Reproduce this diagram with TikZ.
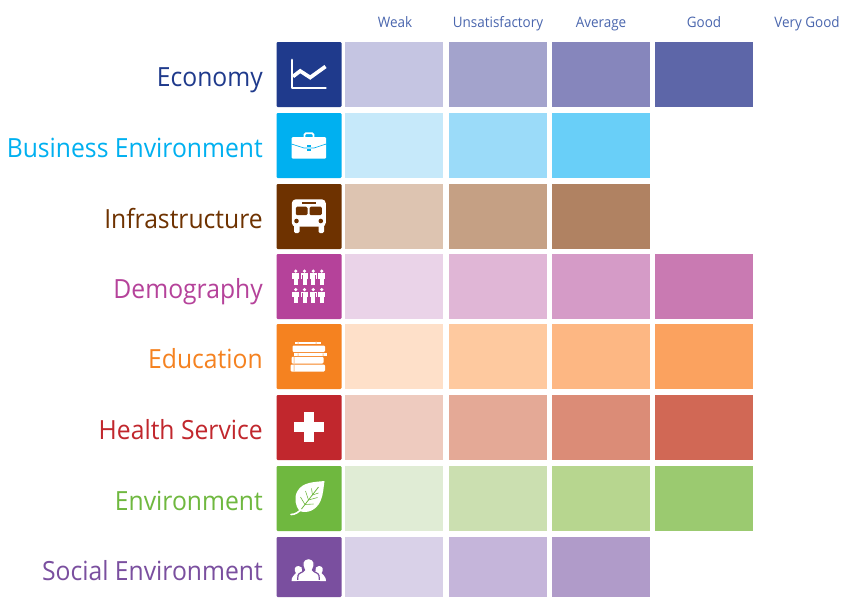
\documentclass[tikz,border=0pt]{standalone}
\usepackage{fontspec}
\setmainfont{Open Sans}
\newfontfamily\lblfont[FakeStretch=0.935]{Open Sans}
\definecolor{cA}{HTML}{1F3A8C}\definecolor{cB}{HTML}{00B0F0}\definecolor{cC}{HTML}{6E3200}\definecolor{cD}{HTML}{B5429A}
\definecolor{cE}{HTML}{F58220}\definecolor{cF}{HTML}{C1272D}\definecolor{cG}{HTML}{6FB83F}\definecolor{cH}{HTML}{7A4F9F}
\definecolor{hdr}{HTML}{4A66AE}
\tikzset{
  hdrtext/.style={text=hdr,font=\lblfont\fontsize{10.8}{12}\selectfont,inner sep=0pt,anchor=base},
  rowlabel/.style={font=\lblfont\fontsize{19.8}{22}\selectfont,inner sep=0pt,anchor=base east},
  iconbox/.style={rounded corners=0.8pt},
  glyph/.style={fill=white,draw=none},
  wline/.style={draw=white,line cap=round,line join=round},
}
% \cellsq{x0}{x1}{y0}{y1}{hex}
\newcommand{\cellsq}[5]{\definecolor{tmpc}{HTML}{#5}\fill[tmpc] (#1,#3) rectangle (#2,#4);}
\newcommand{\cellsrow}[5]{% y0 y1 c1 c2 c3
  \cellsq{345}{443}{#1}{#2}{#3}\cellsq{449}{547}{#1}{#2}{#4}\cellsq{552}{650}{#1}{#2}{#5}}
\newcommand{\myperson}[2]{%
  \fill[glyph] (#1,#2+1.8) circle (1.8);
  \fill[glyph] (#1-3.6,#2+3.8) rectangle (#1+3.6,#2+5.6);
  \fill[glyph] (#1-3.6,#2+3.8) rectangle (#1-2.3,#2+9.5);
  \fill[glyph] (#1+2.3,#2+3.8) rectangle (#1+3.6,#2+9.5);
  \fill[glyph] (#1-2,#2+3.8) rectangle (#1+2,#2+15.5);
}
\begin{document}
\begin{tikzpicture}[x=0.75pt,y=-0.75pt]
\useasboundingbox (0,0) rectangle (841,597);
\fill[white] (0,0) rectangle (841,597);
% headers
\node[hdrtext] (h1) at (395,27) {Weak};
\node[hdrtext] (h2) at (498,27) {Unsatisfactory};
\node[hdrtext] (h3) at (601,27) {Average};
\node[hdrtext] (h4) at (704,27) {Good};
\node[hdrtext] (h5) at (807,27) {Very Good};
% cells
\cellsrow{42}{107}{C5C5E2}{A3A3CC}{8686BC}\cellsq{655}{753}{42}{107}{5D66A8}
\cellsrow{113}{178}{C6E9FA}{9BDBF9}{69CFF8}
\cellsrow{184}{249}{DDC4B1}{C5A084}{B08262}
\cellsrow{254}{319}{EAD3E8}{E0B6D6}{D59BC7}\cellsq{655}{753}{254}{319}{C97AB2}
\cellsrow{324}{389}{FEE0C9}{FEC99F}{FDB783}\cellsq{655}{753}{324}{389}{FBA25F}
\cellsrow{395}{460}{EECBBF}{E4A996}{DB8C77}\cellsq{655}{753}{395}{460}{D16855}
\cellsrow{466}{531}{E0ECD5}{CBDFB0}{B7D68F}\cellsq{655}{753}{466}{531}{9BCA70}
\cellsrow{537}{597}{D9D1E8}{C5B5DA}{B09BC9}
% labels
\node[rowlabel,text=cA] (l1) at (263,86) {Economy};
\node[rowlabel,text=cB] (l2) at (263,157) {Business Environment};
\node[rowlabel,text=cC] (l3) at (263,228) {Infrastructure};
\node[rowlabel,text=cD] (l4) at (263,298) {Demography};
\node[rowlabel,text=cE] (l5) at (263,368) {Education};
\node[rowlabel,text=cF] (l6) at (263,439) {Health Service};
\node[rowlabel,text=cG] (l7) at (263,510) {Environment};
\node[rowlabel,text=cH] (l8) at (263,580) {Social Environment};
% icon: economy
\begin{scope}[shift={(276.5,42)}]
  \fill[iconbox,cA] (0,0) rectangle (65,65);
  \draw[wline,line width=2.1pt] (15.5,18) -- (15.5,46) -- (49,46);
  \draw[wline,line width=2.8pt,line cap=butt,line join=miter] (16.5,34.5) -- (23.7,29) -- (33.7,35.5) -- (49,24.5);
\end{scope}
% icon: business
\begin{scope}[shift={(276.5,113)}]
  \fill[iconbox,cB] (0,0) rectangle (65,65);
  \draw[draw=white,line width=1.3pt,rounded corners=1pt] (28,24.5) -- (28,20.2) -- (37,20.2) -- (37,24.5);
  \fill[glyph,rounded corners=1pt] (15,24) rectangle (49.7,45.7);
  \draw[cB,line width=0.5pt] (15,31) -- (27.5,35) -- (37.5,35) -- (49.7,31);
  \fill[cB] (30.5,31.5) rectangle (34.5,34);
  \fill[cB] (30.5,35.8) rectangle (34.5,38);
\end{scope}
% icon: infrastructure
\begin{scope}[shift={(276.5,184)}]
  \fill[iconbox,cC] (0,0) rectangle (65,65);
  \fill[glyph,rounded corners=3pt] (15.3,15.3) rectangle (49.3,42.7);
  \fill[glyph,rounded corners=1pt] (17.5,41) rectangle (23,49);
  \fill[glyph,rounded corners=1pt] (42,41) rectangle (47.5,49);
  \fill[cC,rounded corners=1pt] (19.3,22.7) rectangle (31,31.2);
  \fill[cC,rounded corners=1pt] (33,22.7) rectangle (45.3,31.2);
  \fill[cC] (25.5,17.8) rectangle (39.5,19.6);
  \fill[cC] (20,37) circle (2.3);
  \fill[cC] (44.3,37) circle (2.3);
\end{scope}
% icon: demography
\begin{scope}[shift={(276.5,254)}]
  \fill[iconbox,cD] (0,0) rectangle (65,65);
  \foreach \px in {19.3,28,36.7,45.3}{
    \myperson{\px}{15.3}
    \myperson{\px}{33.8}
  }
\end{scope}
% icon: education
\begin{scope}[shift={(276.5,324)}]
  \fill[iconbox,cE] (0,0) rectangle (65,65);
  \fill[glyph] (18,17.5) rectangle (44.5,20.2);
  \fill[glyph,rounded corners=0.8pt] (16,21.5) rectangle (48.5,28);
  \fill[glyph] (17,29.3) rectangle (50.5,32);
  \fill[glyph,rounded corners=0.8pt] (15,32.8) rectangle (47,39.5);
  \fill[glyph,rounded corners=0.8pt] (14,40.5) rectangle (48.5,47.5);
  \fill[cE!45!white] (21,17.5) rectangle (22,20.2) (39,17.5) rectangle (40,20.2);
  \fill[cE!45!white] (21,29.3) rectangle (22,32) (46,29.3) rectangle (47,32);
  \fill[cE!45!white] (17,32.8) rectangle (18,39.5) (17,40.5) rectangle (18,47.5);
\end{scope}
% icon: health
\begin{scope}[shift={(276.5,395)}]
  \fill[iconbox,cF] (0,0) rectangle (65,65);
  \fill[glyph] (27,17.3) rectangle (37.7,47.3);
  \fill[glyph] (17,27.3) rectangle (47.7,37.3);
\end{scope}
% icon: environment
\begin{scope}[shift={(276.5,466)}]
  \fill[iconbox,cG] (0,0) rectangle (65,65);
  \fill[glyph] (48,15) .. controls (38,16) and (26,16) .. (21,25)
     .. controls (17,32) and (19,40) .. (23,45)
     .. controls (31,48) and (40,44) .. (44,35)
     .. controls (47,28) and (47,21) .. (48,15) -- cycle;
  \draw[wline,line width=1.2pt] (14.5,48.5) .. controls (19,48.5) and (22,46) .. (25,43);
  \draw[cG,line width=0.6pt] (25,43) -- (42,21);
  \draw[cG,line width=0.45pt] (28.5,38.5) -- (24,31) (28.5,38.5) -- (37,38)
    (32,34) -- (29,25) (32,34) -- (41,31.5) (36,29) -- (35,22.5) (36,29) -- (42,27);
\end{scope}
% icon: social
\begin{scope}[shift={(276.5,537)}]
  \fill[iconbox,cH] (0,60) -- (0,0) -- (65,0) -- (65,60) -- cycle;
  \fill[glyph] (15,44) -- (15.5,41) .. controls (16,38) and (19,38) .. (19.5,36)
     .. controls (17,33) and (18,29) .. (22,29) .. controls (25,29) and (26,31) .. (25.5,34)
     -- (27,38) -- (27,44) -- cycle;
  \fill[glyph] (49.5,44) -- (49,41) .. controls (48.5,38) and (45.5,38) .. (45,36)
     .. controls (47.5,33) and (46.5,29) .. (42.5,29) .. controls (39.5,29) and (38.5,31) .. (39,34)
     -- (37.5,38) -- (37.5,44) -- cycle;
  \draw[cH,line width=0.9pt,fill=white] (21,44.5) -- (21.5,38.5) .. controls (22,35.5) and (27,35.5) .. (28,33)
     .. controls (25,28) and (25.5,21.5) .. (32,21.5) .. controls (38.5,21.5) and (39,28) .. (36,33)
     .. controls (37,35.5) and (42,35.5) .. (42.5,38.5) -- (43,44.5) -- cycle;
  \fill[glyph] (15,43.2) rectangle (49.5,44.4);
\end{scope}
\end{tikzpicture}
\end{document}
